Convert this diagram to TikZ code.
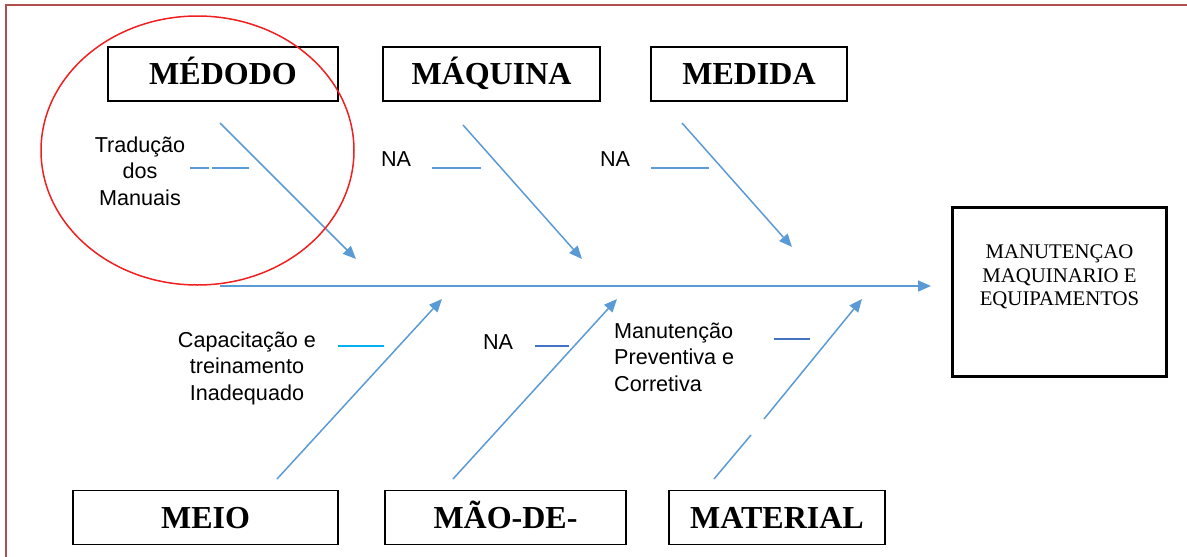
\documentclass[tikz,border=0pt]{standalone}
\usepackage{fontspec}
\setmainfont{Liberation Serif}
\newfontfamily\arialf{Liberation Sans}
\usetikzlibrary{arrows.meta}
\definecolor{frameRed}{HTML}{B0504E}
\definecolor{circRed}{HTML}{F02020}
\definecolor{boneBlue}{HTML}{5B9BD5}
\definecolor{cyanLine}{HTML}{00B0F0}
\definecolor{darkBlue}{HTML}{4472C4}
\tikzset{
  catbox/.style={draw=black, line width=1.3pt, minimum height=54pt, inner sep=0pt,
    text height=21pt, text depth=0pt,
    font=\fontsize{32}{36}\selectfont\bfseries},
  bone/.style={draw=boneBlue, line width=1.5pt, -{Triangle[length=13pt,width=11pt]}},
  twig/.style={draw=boneBlue, line width=1.5pt},
  cause/.style={font=\arialf\fontsize{21.6}{26.5}\selectfont, inner sep=0pt, align=center},
}
\begin{document}
\begin{tikzpicture}[x=1pt,y=-1pt]
\useasboundingbox (0,0) rectangle (1187,557);
% frame
\draw[frameRed, line width=2pt] (6,557) -- (6,5) -- (1187,5);
% category boxes
\node[catbox, minimum width=230pt] (metodo) at (223,74) {MÉDODO};
\node[catbox, minimum width=217pt] (maquina) at (491.5,74) {MÁQUINA};
\node[catbox, minimum width=196pt] (medida) at (749,74) {MEDIDA};
\node[catbox, minimum width=265pt] (meio) at (205.5,517.5) {MEIO};
\node[catbox, minimum width=241pt] (mao) at (505.5,517.5) {MÃO-DE-};
\node[catbox, minimum width=216pt] (material) at (777,517.5) {MATERIAL};
% effect box
\node[draw=black, line width=3.5pt, minimum width=214pt, minimum height=169pt, inner sep=0pt] (efeito) at (1059.5,292) {};
\node[align=center, inner sep=0pt, font=\fontsize{20.8}{23.5}\selectfont] (efeitotxt) at (1059.5,277)
  {MANUTENÇAO\\MAQUINARIO E\\EQUIPAMENTOS};
% spine
\coordinate (s0) at (220,286);
\coordinate (s1) at (931,286);
\draw[bone] (s0) -- (s1);
% top bones
\coordinate (a0) at (220,123); \coordinate (a1) at (356,259);
\coordinate (b0) at (463,125); \coordinate (b1) at (582,259);
\coordinate (c0) at (682,123); \coordinate (c1) at (792,247);
\draw[bone] (a0) -- (a1);
\draw[bone] (b0) -- (b1);
\draw[bone] (c0) -- (c1);
% bottom bones
\coordinate (d0) at (277,479); \coordinate (d1) at (442,299);
\coordinate (e0) at (453,479); \coordinate (e1) at (617,299);
\coordinate (f0) at (714,479); \coordinate (f1) at (862,299);
\coordinate (fg0) at (751,435); \coordinate (fg1) at (764,419);
\draw[bone] (d0) -- (d1);
\draw[bone] (e0) -- (e1);
\draw[twig] (f0) -- (fg0);
\draw[bone] (fg1) -- (f1);
% causes
\node[cause] (t1) at (140,171) {Tradução\\dos\\Manuais};
\node[cause] (t2) at (396,159) {NA};
\node[cause] (t3) at (615,159) {NA};
\node[cause] (t4) at (247,368) {Capacitação e\\treinamento\\Inadequado};
\node[cause] (t5) at (498,342) {NA};
\node[cause, anchor=west, align=left] (t6) at (614,357) {Manutenção\\Preventiva e\\Corretiva};
% twigs
\coordinate (g0) at (190,168); \coordinate (g1) at (209,168);
\coordinate (g2) at (212,168); \coordinate (g3) at (249,168);
\draw[twig] (g0) -- (g1);
\draw[twig] (g2) -- (g3);
\coordinate (h0) at (432,168); \coordinate (h1) at (481,168);
\draw[twig] (h0) -- (h1);
\coordinate (i0) at (651,168); \coordinate (i1) at (709,168);
\draw[twig] (i0) -- (i1);
\coordinate (j0) at (338,346); \coordinate (j1) at (384,346);
\draw[cyanLine, line width=1.5pt] (j0) -- (j1);
\coordinate (k0) at (535,346); \coordinate (k1) at (569,346);
\draw[darkBlue, line width=1.5pt] (k0) -- (k1);
\coordinate (l0) at (774,339); \coordinate (l1) at (810,339);
\draw[darkBlue, line width=1.5pt] (l0) -- (l1);
% red circle
\draw[circRed, line width=1.5pt] (197.5,150.5) ellipse [x radius=156.5pt, y radius=134.5pt];
\end{tikzpicture}
\end{document}
